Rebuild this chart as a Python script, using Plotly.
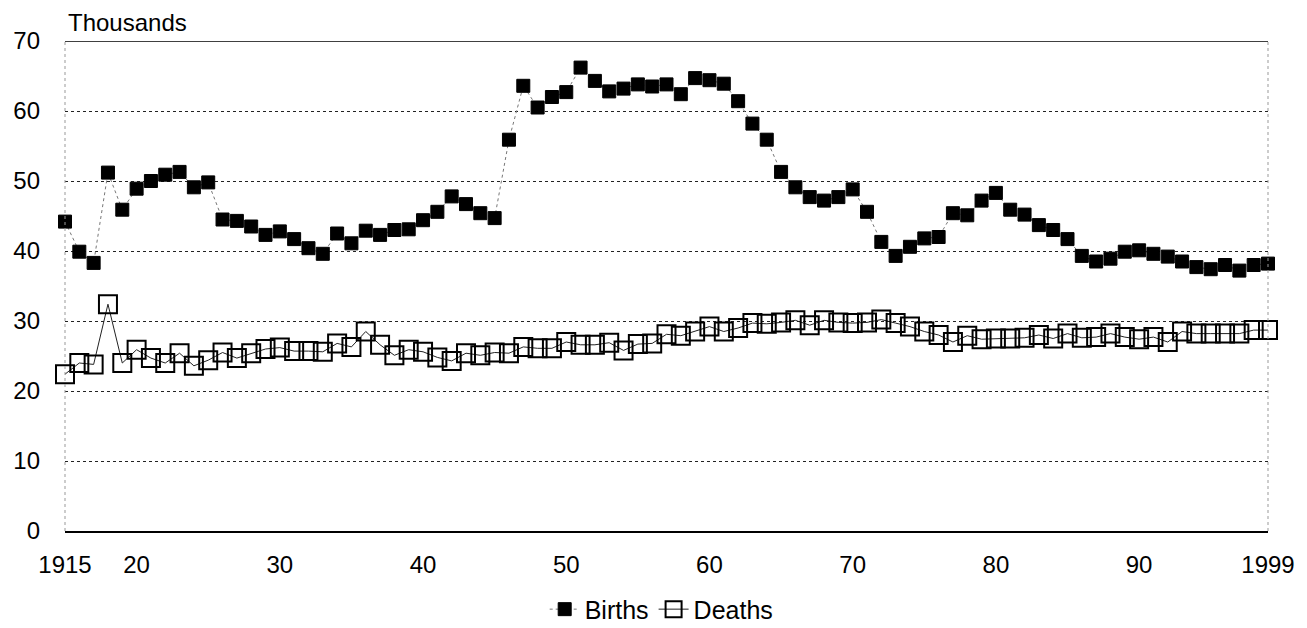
import plotly.graph_objects as go

years = list(range(1915, 2000))

births = [44.2, 39.9, 38.3, 51.2, 45.9, 48.9, 50.0, 50.9, 51.3, 49.1,
          49.8, 44.5, 44.3, 43.5, 42.3, 42.8, 41.7, 40.4, 39.6, 42.5,
          41.1, 42.9, 42.3, 43.0, 43.1, 44.4, 45.6, 47.8, 46.7, 45.4,
          44.7, 55.9, 63.6, 60.5, 62.0, 62.7, 66.2, 64.3, 62.8, 63.2,
          63.8, 63.5, 63.8, 62.4, 64.7, 64.4, 63.9, 61.4, 58.2, 55.9,
          51.3, 49.1, 47.7, 47.2, 47.7, 48.8, 45.6, 41.3, 39.3, 40.6,
          41.8, 42.0, 45.4, 45.1, 47.2, 48.3, 45.9, 45.2, 43.7, 43.0,
          41.7, 39.3, 38.5, 38.9, 39.9, 40.1, 39.6, 39.2, 38.5, 37.7,
          37.4, 38.0, 37.2, 38.0, 38.2]

deaths = [22.4, 24.0, 23.8, 32.4, 24.0, 25.9, 24.7, 24.0, 25.4, 23.6,
          24.4, 25.5, 24.7, 25.4, 26.0, 26.2, 25.7, 25.7, 25.6, 26.8,
          26.3, 28.5, 26.6, 25.1, 25.9, 25.6, 24.8, 24.3, 25.4, 25.1,
          25.5, 25.4, 26.3, 26.1, 26.1, 27.0, 26.6, 26.6, 26.9, 25.8,
          26.7, 26.8, 28.1, 27.9, 28.5, 29.2, 28.5, 29.0, 29.7, 29.6,
          29.8, 30.1, 29.4, 30.1, 29.8, 29.7, 29.8, 30.2, 29.7, 29.2,
          28.5, 28.0, 27.0, 27.9, 27.4, 27.5, 27.5, 27.6, 28.0, 27.5,
          28.2, 27.6, 27.7, 28.2, 27.7, 27.4, 27.7, 27.0, 28.5, 28.2,
          28.2, 28.2, 28.2, 28.7, 28.7]

x_tickvals = [1915, 1920, 1930, 1940, 1950, 1960, 1970, 1980, 1990, 1999]
x_ticktext = ["1915", "20", "30", "40", "50", "60", "70", "80", "90", "1999"]
y_tickvals = [0, 10, 20, 30, 40, 50, 60, 70]

FONT = "Liberation Sans, Arial, sans-serif"
FS = 24

fig = go.Figure()
fig.add_trace(go.Scatter(
    x=years, y=births, name="Births", mode="lines+markers",
    line=dict(color="#777777", width=1, dash="dot"),
    marker=dict(symbol="square", size=13, color="black",
                line=dict(color="black", width=1)),
    cliponaxis=False,
))
fig.add_trace(go.Scatter(
    x=years, y=deaths, name="Deaths", mode="lines+markers",
    line=dict(color="#222222", width=1),
    marker=dict(symbol="square-open", size=18, color="black",
                line=dict(color="black", width=2)),
    cliponaxis=False,
))

fig.update_layout(
    width=1299, height=620,
    margin=dict(l=57, r=39, t=33, b=97, autoexpand=False),
    paper_bgcolor="white", plot_bgcolor="white",
    font=dict(family=FONT, size=FS, color="black"),
    showlegend=True,
    legend=dict(orientation="h", x=0.496, xanchor="center",
                yref="container", y=0.03, yanchor="middle",
                font=dict(size=25), itemwidth=30,
                tracegroupgap=0, bgcolor="rgba(0,0,0,0)"),
    xaxis=dict(range=[1915, 1999], tickmode="array", tickvals=x_tickvals,
               ticktext=x_ticktext, showgrid=False, zeroline=False,
               showline=True, linecolor="black", linewidth=2,
               ticks="", ticklabelstandoff=11, automargin=False,
               tickfont=dict(size=FS)),
    yaxis=dict(range=[0, 70], tickmode="array", tickvals=y_tickvals,
               showgrid=True, gridcolor="#222222", griddash="dot",
               gridwidth=1, zeroline=False, showline=False,
               ticks="", ticklabelstandoff=24, automargin=False,
               tickfont=dict(size=FS)),
    shapes=[
        dict(type="line", xref="paper", yref="y", x0=0, x1=1, y0=70, y1=70,
             line=dict(color="black", width=1.5)),
        dict(type="line", xref="paper", yref="paper", x0=0, x1=0, y0=0, y1=1,
             line=dict(color="#999999", width=1, dash="dot")),
        dict(type="line", xref="paper", yref="paper", x0=1, x1=1, y0=0, y1=1,
             line=dict(color="#999999", width=1, dash="dot")),
    ],
    annotations=[
        dict(text="Thousands", xref="paper", yref="paper", x=0, y=1.0,
             xanchor="left", yanchor="bottom", xshift=2, yshift=4,
             showarrow=False, font=dict(size=24), borderpad=0),
    ],
)

fig.write_html("out.html")
